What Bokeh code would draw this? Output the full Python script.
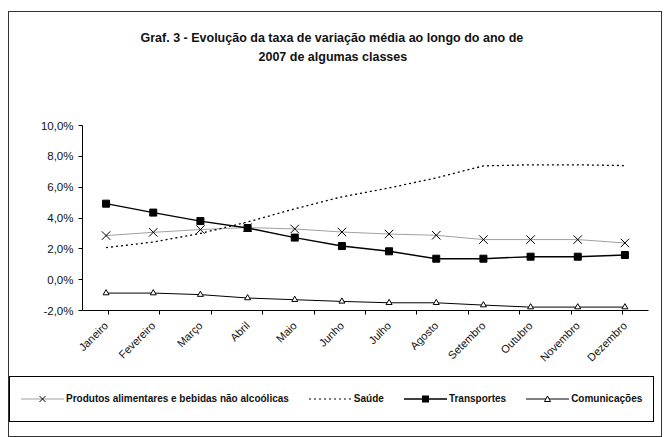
import math
from bokeh.plotting import figure
from bokeh.layouts import column
from bokeh.models import (FactorRange, Range1d, LinearAxis, CategoricalAxis,
                          FixedTicker, Title, Div)
from bokeh.embed import file_html
from bokeh.resources import INLINE

months = ["Janeiro", "Fevereiro", "Março", "Abril", "Maio", "Junho", "Julho",
          "Agosto", "Setembro", "Outubro", "Novembro", "Dezembro"]
produtos = [2.86, 3.07, 3.25, 3.38, 3.29, 3.09, 2.96, 2.88, 2.60, 2.60, 2.60, 2.38]
saude = [2.08, 2.44, 3.00, 3.74, 4.60, 5.37, 5.95, 6.60, 7.38, 7.45, 7.45, 7.40]
transportes = [4.93, 4.35, 3.80, 3.35, 2.73, 2.18, 1.84, 1.36, 1.36, 1.49, 1.49, 1.60]
comunicacoes = [-0.87, -0.87, -0.97, -1.19, -1.30, -1.41, -1.50, -1.50, -1.65, -1.78, -1.78, -1.78]
y_ticks = [-2, 0, 2, 4, 6, 8, 10]
y_tick_labels = ["-2,0%", "0,0%", "2,0%", "4,0%", "6,0%", "8,0%", "10,0%"]
names = ["Produtos alimentares e bebidas não alcoólicas", "Saúde", "Transportes", "Comunicações"]
title_lines = ["Graf. 3 - Evolução da taxa de variação média ao longo do ano de",
               "2007 de algumas classes"]

FONT = "Liberation Sans"
W = 652

p = figure(width=W, height=364, x_range=FactorRange(*months),
           y_range=Range1d(y_ticks[0], y_ticks[-1]),
           x_axis_location=None, y_axis_location=None,
           output_backend="svg", toolbar_location=None,
           min_border_left=73, min_border_right=13, min_border_top=113, min_border_bottom=66)
p.outline_line_color = None
p.xgrid.visible = False
p.ygrid.visible = False
p.background_fill_color = "white"
p.border_fill_color = "white"

# titles (first added is nearest the frame)
spacer = Title(text=" ", text_font_size="1px", standoff=57)
t2 = Title(text=title_lines[1], align="left", offset=176, text_font=FONT, text_font_size="12.5px",
           text_font_style="bold", text_color="#111", standoff=3)
t1 = Title(text=title_lines[0], align="left", offset=58, text_font=FONT, text_font_size="12.5px",
           text_font_style="bold", text_color="#111", standoff=3)
p.add_layout(spacer, "above")
p.add_layout(t2, "above")
p.add_layout(t1, "above")

# y axis
yax = LinearAxis(ticker=FixedTicker(ticks=y_ticks),
                 major_label_overrides={v: s for v, s in zip(y_ticks, y_tick_labels)},
                 major_label_text_font=FONT, major_label_text_font_size="11.5px",
                 major_label_text_color="#111",
                 axis_line_color="black", major_tick_line_color="black",
                 major_tick_out=4, major_tick_in=0, minor_tick_line_color=None,
                 major_label_standoff=5)
p.add_layout(yax, "left")

# x axis: boundary ticks (factor range shifted by half a category) + category labels
bounds = ["b%d" % i for i in range(len(months) + 1)]
p.extra_x_ranges = {"bounds": FactorRange(factors=bounds, range_padding=-1,
                                          range_padding_units="absolute")}
tick_ax = CategoricalAxis(x_range_name="bounds",
                          major_label_text_font_size="0px", major_label_standoff=0,
                          major_label_text_alpha=0,
                          axis_line_color="black", major_tick_line_color="black",
                          major_tick_out=4, major_tick_in=0, minor_tick_line_color=None)
p.add_layout(tick_ax, "below")
cat_ax = CategoricalAxis(axis_line_color=None, major_tick_line_color=None,
                         major_label_orientation=math.pi / 4,
                         major_label_text_font=FONT, major_label_text_font_size="11px",
                         major_label_text_color="#111", major_label_standoff=3)
p.add_layout(cat_ax, "below")

# series
p.line(months, produtos, line_color="#a0a0a0", line_width=1)
p.scatter(months, produtos, marker="x", size=12, line_color="black", line_width=1)
p.line(months, saude, line_color="black", line_width=1.3, line_dash="2 3")
p.line(months, transportes, line_color="black", line_width=1.4)
p.scatter(months, transportes, marker="square", size=7, fill_color="black", line_color="black")
p.line(months, comunicacoes, line_color="black", line_width=1)
p.scatter(months, comunicacoes, marker="triangle", size=6, fill_color="white",
          line_color="black", line_width=1)

# legend strip (HTML, real text)
glyph_svgs = [
    '<svg width="43" height="16"><line x1="0" y1="8" x2="43" y2="8" stroke="#a0a0a0" stroke-width="1"/>'
    '<path d="M18.5 5 L24.5 11 M18.5 11 L24.5 5" stroke="black" stroke-width="1"/></svg>',
    '<svg width="43" height="16"><line x1="0" y1="8" x2="43" y2="8" stroke="black" stroke-width="1.2" '
    'stroke-dasharray="2 3"/></svg>',
    '<svg width="43" height="16"><line x1="0" y1="8" x2="43" y2="8" stroke="black" stroke-width="1.4"/>'
    '<rect x="18" y="4.5" width="7" height="7" fill="black"/></svg>',
    '<svg width="43" height="16"><line x1="0" y1="8" x2="43" y2="8" stroke="black" stroke-width="1"/>'
    '<path d="M21.5 5 L24.5 10.5 L18.5 10.5 Z" fill="white" stroke="black" stroke-width="1"/></svg>',
]
items_html = ""
for i, (svg, name) in enumerate(zip(glyph_svgs, names)):
    gap = "0" if i == 0 else "20px"
    items_html += ('<span style="display:inline-flex;align-items:center;margin-left:%s">%s'
                   '<span style="margin-left:2px">%s</span></span>' % (gap, svg, name))
legend_html = ('<div style="width:645px;height:46px;box-sizing:border-box;border:1px solid #000;'
               'display:flex;align-items:center;padding-left:11px;white-space:nowrap;'
               'font-family:\'Liberation Sans\',Arial,sans-serif;font-size:10px;font-weight:bold;'
               'color:#111;background:white">%s</div>' % items_html)
legend_div = Div(text=legend_html, width=W, height=60, margin=0)

layout = column(p, legend_div, spacing=0,
                styles={"border": "1.5px solid #333", "margin-left": "8px", "margin-top": "11px",
                        "background": "white"})

open("out.html", "w").write(file_html(layout, INLINE))
